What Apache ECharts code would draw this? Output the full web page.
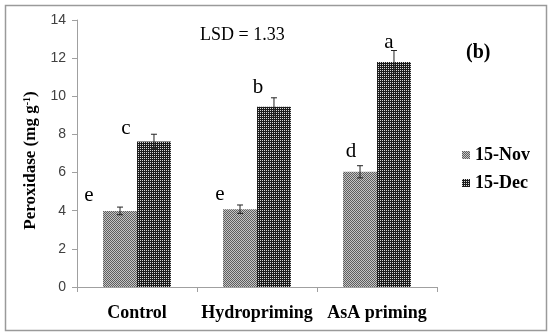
<!DOCTYPE html>
<html>
<head>
<meta charset="utf-8">
<script src="https://cdn.jsdelivr.net/npm/echarts@6/dist/echarts.min.js"></script>
<style>html,body{margin:0;padding:0;background:#fff;}#chart{width:550px;height:333px;}</style>
</head>
<body>
<div id="chart"></div>
<script>
const categories = ['Control', 'Hydropriming', 'AsA priming'];
const seriesNames = ['15-Nov', '15-Dec'];
const novValues = [3.99, 4.08, 6.04];
const decValues = [7.63, 9.45, 11.8];
const novErrors = [0.2, 0.22, 0.32];
const decErrors = [0.38, 0.47, 0.6];
const novLetters = ['e', 'e', 'd'];
const decLetters = ['c', 'b', 'a'];
const yMin = 0, yMax = 14, yInterval = 2;
const lsdText = 'LSD = 1.33';
const panelText = '(b)';

function makePattern(size, cells) {
  const c = document.createElement('canvas');
  c.width = size; c.height = size;
  const ctx = c.getContext('2d');
  for (let y = 0; y < size; y++) for (let x = 0; x < size; x++) {
    ctx.fillStyle = cells[y][x];
    ctx.fillRect(x, y, 1, 1);
  }
  return c;
}
const novPattern = { image: makePattern(2, [['#5e5e5e', '#c4c4c4'], ['#c4c4c4', '#5e5e5e']]), repeat: 'repeat' };
const decPattern = { image: makePattern(2, [['#d8d8d8', '#1c1c1c'], ['#1c1c1c', '#1c1c1c']]), repeat: 'repeat' };

// label layout (visual placement of significance letters)
const novLabelShift = [[-31, 0], [-20, 1], [-9, -5]];
const decLabelShift = [[-28, 2], [-16, -4], [-5, -4]];

const serif = 'Liberation Serif';
const BAR_FRAC = 0.283;

function barData(values, letters, shifts) {
  return values.map((v, i) => ({
    value: v,
    label: { show: true, formatter: letters[i], offset: shifts[i] }
  }));
}
function errData(values, errs, side) {
  return values.map((v, i) => [i, v, errs[i], side]);
}
function renderErr(params, api) {
  const ci = api.value(0), v = api.value(1), e = api.value(2), side = api.value(3);
  const band = api.size([1, 0])[0];
  const dx = side * band * BAR_FRAC / 2;
  const top = api.coord([ci, v + e]);
  const bot = api.coord([ci, v - e]);
  const x = top[0] + dx;
  const cap = 3;
  const st = { stroke: '#222', lineWidth: 1 };
  return {
    type: 'group',
    children: [
      { type: 'line', shape: { x1: x, y1: top[1], x2: x, y2: bot[1] }, style: st },
      { type: 'line', shape: { x1: x - cap, y1: top[1], x2: x + cap, y2: top[1] }, style: st },
      { type: 'line', shape: { x1: x - cap, y1: bot[1], x2: x + cap, y2: bot[1] }, style: st }
    ]
  };
}

const chart = echarts.init(document.getElementById('chart'));
chart.setOption({
  animation: false,
  backgroundColor: '#fff',
  grid: { left: 77, right: 113, top: 20, bottom: 46, containLabel: false },
  legend: {
    orient: 'vertical', left: 457, top: 141, itemWidth: 8, itemHeight: 8, itemGap: 10,
    icon: 'rect',
    textStyle: { fontFamily: serif, fontWeight: 'bold', fontSize: 18, color: '#000' },
    data: seriesNames
  },
  xAxis: {
    type: 'category', data: categories,
    axisLine: { lineStyle: { color: '#a0a0a0' } },
    axisTick: { show: true, length: 5, lineStyle: { color: '#a0a0a0' } },
    axisLabel: { fontFamily: serif, fontWeight: 'bold', fontSize: 18, color: '#000', margin: 17, interval: 0 }
  },
  yAxis: {
    type: 'value', min: yMin, max: yMax, interval: yInterval,
    name: '{a|Peroxidase (mg g}{s|-1}{a|)}',
    nameLocation: 'middle', nameGap: 34,
    nameTextStyle: {
      padding: [0, 14, 0, 0],
      rich: {
        a: { fontFamily: serif, fontWeight: 'bold', fontSize: 17, color: '#000', lineHeight: 18 },
        s: { fontFamily: serif, fontWeight: 'bold', fontSize: 10, color: '#000', verticalAlign: 'top', lineHeight: 10 }
      }
    },
    axisLine: { show: true, lineStyle: { color: '#a0a0a0' } },
    axisTick: { show: true, length: 5, inside: false, lineStyle: { color: '#a0a0a0' } },
    splitLine: { show: false },
    axisLabel: { fontFamily: 'Liberation Sans', fontSize: 14, color: '#404040', margin: 11 }
  },
  series: [
    {
      name: seriesNames[0], type: 'bar', barWidth: (BAR_FRAC * 100) + '%', barGap: '0%',
      itemStyle: { color: novPattern },
      label: { position: 'top', distance: 5, fontFamily: serif, fontSize: 21, color: '#000' },
      data: barData(novValues, novLetters, novLabelShift)
    },
    {
      name: seriesNames[1], type: 'bar', barWidth: (BAR_FRAC * 100) + '%', barGap: '0%',
      itemStyle: { color: decPattern },
      label: { position: 'top', distance: 5, fontFamily: serif, fontSize: 21, color: '#000' },
      data: barData(decValues, decLetters, decLabelShift)
    },
    {
      type: 'custom', renderItem: renderErr, z: 10,
      encode: { x: 0, y: 1 },
      data: errData(novValues, novErrors, -1).concat(errData(decValues, decErrors, 1))
    }
  ],
  graphic: [
    { type: 'rect', left: 3, top: 3, shape: { width: 541, height: 325 }, style: { fill: 'none', stroke: '#9a9a9a', lineWidth: 1.5 }, silent: true },
    { type: 'text', left: 200, top: 26, style: { text: lsdText, fontFamily: serif, fontSize: 18, fill: '#000' } },
    { type: 'text', left: 466, top: 43, style: { text: panelText, fontFamily: serif, fontWeight: 'bold', fontSize: 20, fill: '#000' } }
  ]
});
</script>
</body>
</html>
